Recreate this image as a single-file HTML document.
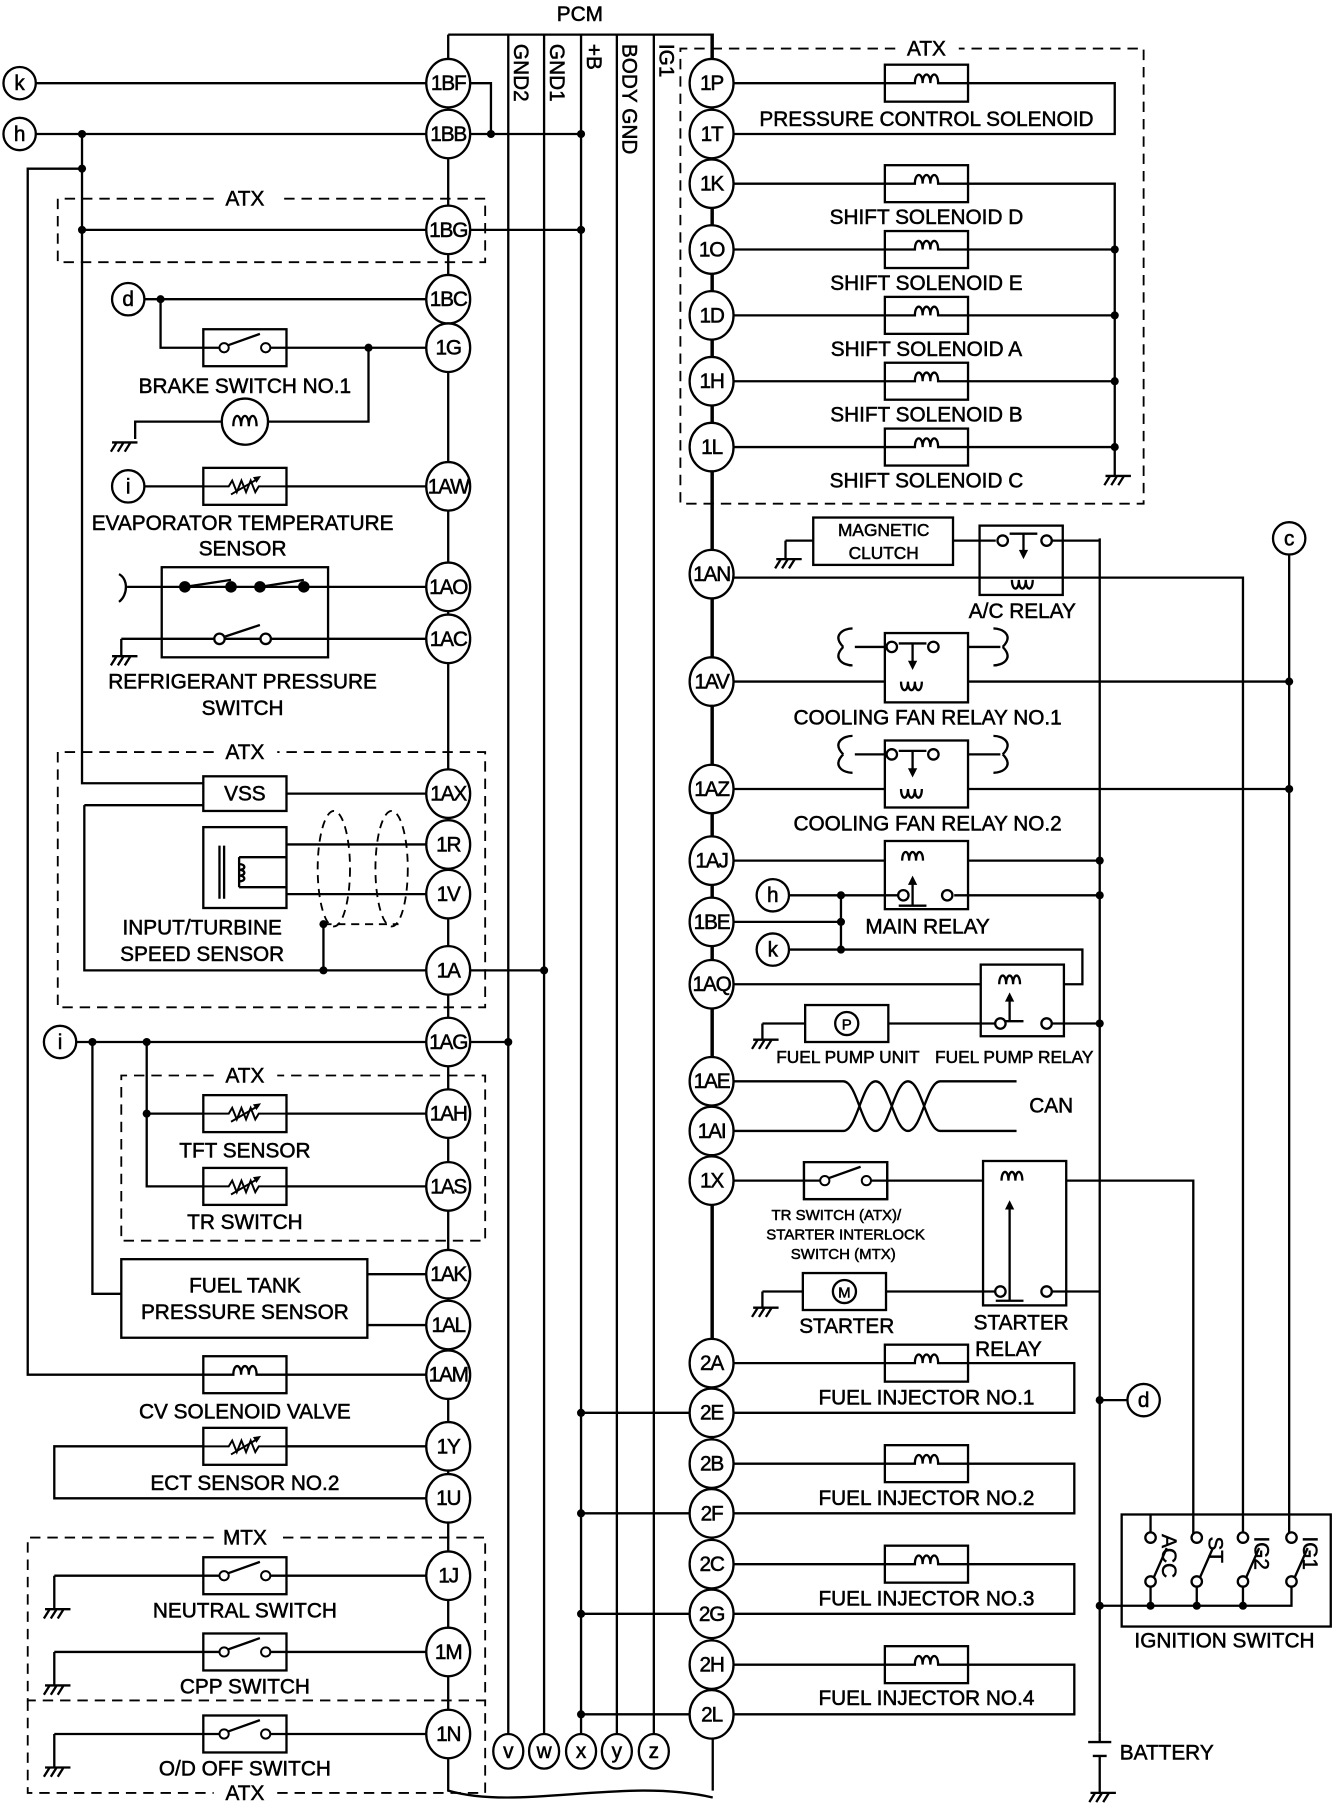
<!DOCTYPE html>
<html><head><meta charset="utf-8"><style>
html,body{margin:0;padding:0;background:#fff}
svg{display:block}
text{font-family:"Liberation Sans",Arial,sans-serif;fill:#000;stroke:#000;stroke-width:0.45}
</style></head><body>
<svg width="1340" height="1816" viewBox="0 0 1160 1572" preserveAspectRatio="none" xmlns="http://www.w3.org/2000/svg">
<defs>
<g id="coil"><rect x="-36" y="-16" width="72" height="32" fill="#fff" stroke="#000" stroke-width="2"/><path d="M-36 0H-10c0-10 6.7-10 6.7 0c0-10 6.7-10 6.7 0c0-10 6.7-10 6.7 0H36" fill="none" stroke="#000" stroke-width="2"/></g>
<g id="sw"><rect x="-36" y="-16" width="72" height="32" fill="#fff" stroke="#000" stroke-width="2"/><path d="M-36 0H-22M22 0H36M-15-2L13-12" fill="none" stroke="#000" stroke-width="2"/><circle cx="-18" cy="0" r="4" fill="#fff" stroke="#000" stroke-width="1.7"/><circle cx="18" cy="0" r="4" fill="#fff" stroke="#000" stroke-width="1.7"/></g>
<g id="th"><rect x="-36" y="-16" width="72" height="32" fill="#fff" stroke="#000" stroke-width="2"/><path d="M-36 0H-14l3-5 4 10 4-10 4 10 4-10 4 10 3-5H36M-12 7L12-7" fill="none" stroke="#000" stroke-width="1.7"/><path d="M14-9l-7 1 3 5z" fill="#000"/></g>
<g id="gnd"><path d="M-8 0H14M-4 0l-5 8M2 0l-5 8M8 0l-5 8" fill="none" stroke="#000" stroke-width="2"/></g>
</defs>
<g fill="none" stroke="#000" stroke-width="2">
<path d="M388 30H617V1550M388 30V1550C450 1568 540 1538 617 1556"/>
<path d="M440 30V1503M471 30V1503M503 30V1503M534 30V1503M566 30V1503"/>
<path d="M616 30V1500"/>
<g stroke-dasharray="9 6" stroke-width="1.6">
<path d="M185 172H50V227H420V172H240"/>
<path d="M185 651H50V872H420V651H240"/>
<path d="M185 931H105V1074H420V931H240"/>
<path d="M185 1331H24V1472H420V1331H240"/>
<path d="M24 1472V1552H185M240 1552H420V1472"/>
<path d="M775 42H589V436H990V42H830"/>
</g>
<path d="M31 72H369M31 116H369M406 72H425V116M406 116H503M71 116V678H176M71 146H24V1190H176M71 199H369M406 199H503"/>
<path d="M125 259H369M139 259V301H176M248 301H369M319 301V365H232M192 365H117V380"/>
<path d="M125 421H176M248 421H369"/>
<path d="M110 508H369M105 553H369M105 553V568"/>
<path d="M248 687H369M73 697H176M73 697V840H369M406 840H471M248 731H369M248 774H369M280 800V840"/>
<path d="M66 902H369M406 902H440M127 902V1027H176M127 964H176M248 964H369M248 1027H369M80 902V1120H105M318 1103H369M318 1147H369"/>
<path d="M248 1190H369M176 1252H47V1297H369M248 1252H369"/>
<path d="M47 1364H176M248 1364H369M47 1364V1393M47 1430H176M248 1430H369M47 1430V1459M47 1501H176M248 1501H369M47 1501V1530"/>
<rect x="140" y="491" width="144" height="78"/>
<path d="M160 508L200 502M225 508L263 502M195 551L225 541"/>
<path d="M103 497c8 4 8 18 0 24"/>
<rect x="176" y="716" width="72" height="70"/>
<path d="M190 732V778M194 732V778M207 742V768M207 742H248M207 768H248M207 748c6 0 6 5 0 5c6 0 6 5 0 5c6 0 6 5 0 5"/>
<g stroke-dasharray="7 5" stroke-width="1.6"><ellipse cx="289" cy="752" rx="14" ry="50"/><ellipse cx="339" cy="752" rx="14" ry="50"/><path d="M280 800H345"/></g>
<rect x="176" y="672" width="72" height="30" fill="#fff"/>
<rect x="105" y="1090" width="213" height="68"/>
<circle cx="212" cy="365" r="20"/>
<path d="M202 369c0-12 6.7-12 6.7 0c0-12 6.7-12 6.7 0c0-12 6.7-12 6.7 0"/>
<path d="M634 72H766M838 72H965V116H634M634 159H766M838 159H965V412M634 216H766M838 216H965M634 273H766M838 273H965M634 330H766M838 330H965M634 387H766M838 387H965"/>
<path d="M952 466V1500M680 468H704M680 468V484M825 468H862M910 468H952M634 500H1076V1331M1116 480V1331M634 590H766M838 590H1116M634 683H766M838 683H1116"/>
<rect x="704" y="448" width="121" height="41"/>
<rect x="848" y="455" width="72" height="60"/>
<rect x="766" y="548" width="72" height="60"/>
<rect x="766" y="641" width="72" height="58"/>
<path d="M730 560c-10-10 0-16 8-16M730 560c-10 10 0 16 8 16M740 560H766M838 560H866M868 560c10-10 0-16-8-16M868 560c10 10 0 16-8 16"/>
<path d="M730 653c-10-10 0-16 8-16M730 653c-10 10 0 16 8 16M740 653H766M838 653H866M868 653c10-10 0-16-8-16M868 653c10 10 0 16-8 16"/>
<rect x="766" y="728" width="72" height="59"/>
<path d="M634 745H766M838 745H952M634 798H728M680 775H778M826 775H952M728 775V822M680 822H937V852H921M634 852H849"/>
<rect x="849" y="835" width="72" height="62"/>
<path d="M660 886H697M660 886V900M769 886H862M910 886H952"/>
<rect x="697" y="870" width="72" height="32"/>
<path d="M634 936H730C742 936 746 979 758 979C770 979 774 936 786 936C798 936 802 979 814 979H880M634 979H730C742 979 746 936 758 936C770 936 774 979 786 979C798 979 802 936 814 936H880"/>
<path d="M634 1022H696M768 1022H851M923 1022H1033V1331M660 1118H695M660 1118V1132M767 1118H862M910 1118H952"/>
<rect x="696" y="1006" width="72" height="32"/>
<rect x="851" y="1005" width="72" height="125"/>
<rect x="695" y="1102" width="72" height="32"/>
<path d="M634 1180H766M838 1180H930V1223H503M634 1267H766M838 1267H930V1310H503M634 1354H766M838 1354H930V1397H503M634 1441H766M838 1441H930V1484H503"/>
<path d="M952 1212H976"/>
<rect x="971" y="1311" width="181" height="97"/>
<path d="M952 1390H1118V1373M996 1390V1373M1036 1390V1373M1076 1390V1373M996 1311V1327M1036 1331V1327M1076 1331V1327M1118 1331V1327"/>
<path d="M999 1365L1010 1340M1039 1365L1050 1340M1079 1365L1090 1340M1121 1365L1132 1340"/>
<path d="M952 1500V1508M942 1508H962M946 1520H958M952 1520V1552"/>
</g>
<g stroke="#000" stroke-width="2" fill="#fff">
<path d="M874 462H898M886 462V480M778 557H802M790 557V576M778 650H802M790 650V669M778 784H802M790 784V763M862 884H886M874 884V864M862 1126H886M874 1126V1045" fill="none"/>
<circle cx="868" cy="468" r="4.5"/><circle cx="906" cy="468" r="4.5"/>
<circle cx="772" cy="560" r="4.5"/><circle cx="808" cy="560" r="4.5"/>
<circle cx="772" cy="653" r="4.5"/><circle cx="808" cy="653" r="4.5"/>
<circle cx="782" cy="775" r="4.5"/><circle cx="820" cy="775" r="4.5"/>
<circle cx="866" cy="886" r="4.5"/><circle cx="906" cy="886" r="4.5"/>
<circle cx="866" cy="1118" r="4.5"/><circle cx="906" cy="1118" r="4.5"/>
<circle cx="996" cy="1331" r="4.5"/><circle cx="996" cy="1369" r="4.5"/>
<circle cx="1036" cy="1331" r="4.5"/><circle cx="1036" cy="1369" r="4.5"/>
<circle cx="1076" cy="1331" r="4.5"/><circle cx="1076" cy="1369" r="4.5"/>
<circle cx="1118" cy="1331" r="4.5"/><circle cx="1118" cy="1369" r="4.5"/>
<circle cx="190" cy="553" r="4.5"/><circle cx="230" cy="553" r="4.5"/>
<path d="M876 502c0 10 6 10 6 0c0 10 6 10 6 0c0 10 6 10 6 0M780 590c0 10 6 10 6 0c0 10 6 10 6 0c0 10 6 10 6 0M780 683c0 10 6 10 6 0c0 10 6 10 6 0c0 10 6 10 6 0M781 745c0-10 6-10 6 0c0-10 6-10 6 0c0-10 6-10 6 0M865 852c0-10 6-10 6 0c0-10 6-10 6 0c0-10 6-10 6 0M867 1022c0-10 6-10 6 0c0-10 6-10 6 0c0-10 6-10 6 0" fill="none"/>
<circle cx="733" cy="886" r="10"/><circle cx="731" cy="1118" r="10"/>
</g>
<g fill="#000">
<path d="M886 484l-4-8h8zM790 580l-4-8h8zM790 673l-4-8h8zM790 758l-4 8h8zM874 859l-4 8h8zM874 1039l-4 8h8z"/>
<circle cx="425" cy="116" r="3.5"/><circle cx="503" cy="116" r="3.5"/><circle cx="71" cy="116" r="3.5"/><circle cx="71" cy="146" r="3.5"/><circle cx="71" cy="199" r="3.5"/><circle cx="503" cy="199" r="3.5"/>
<circle cx="139" cy="259" r="3.5"/><circle cx="319" cy="301" r="3.5"/>
<circle cx="160" cy="508" r="5"/><circle cx="200" cy="508" r="5"/><circle cx="225" cy="508" r="5"/><circle cx="263" cy="508" r="5"/>
<circle cx="280" cy="800" r="3.5"/><circle cx="280" cy="840" r="3.5"/><circle cx="471" cy="840" r="3.5"/>
<circle cx="80" cy="902" r="3.5"/><circle cx="127" cy="902" r="3.5"/><circle cx="440" cy="902" r="3.5"/><circle cx="127" cy="964" r="3.5"/>
<circle cx="965" cy="216" r="3.5"/><circle cx="965" cy="273" r="3.5"/><circle cx="965" cy="330" r="3.5"/><circle cx="965" cy="387" r="3.5"/>
<circle cx="1116" cy="590" r="3.5"/><circle cx="1116" cy="683" r="3.5"/>
<circle cx="952" cy="745" r="3.5"/><circle cx="952" cy="775" r="3.5"/><circle cx="728" cy="775" r="3.5"/><circle cx="728" cy="798" r="3.5"/><circle cx="728" cy="822" r="3.5"/><circle cx="952" cy="886" r="3.5"/>
<circle cx="952" cy="1212" r="3.5"/><circle cx="503" cy="1223" r="3.5"/><circle cx="503" cy="1310" r="3.5"/><circle cx="503" cy="1397" r="3.5"/><circle cx="503" cy="1484" r="3.5"/>
<circle cx="952" cy="1390" r="3.5"/><circle cx="996" cy="1390" r="3.5"/><circle cx="1036" cy="1390" r="3.5"/><circle cx="1076" cy="1390" r="3.5"/>
</g>
<use href="#sw" x="212" y="301"/><use href="#th" x="212" y="421"/>
<use href="#th" x="212" y="964"/><use href="#th" x="212" y="1027"/>
<use href="#coil" x="212" y="1190"/><use href="#th" x="212" y="1252"/>
<use href="#sw" x="212" y="1364"/><use href="#sw" x="212" y="1430"/><use href="#sw" x="212" y="1501"/>
<use href="#coil" x="802" y="72"/><use href="#coil" x="802" y="159"/><use href="#coil" x="802" y="216"/><use href="#coil" x="802" y="273"/><use href="#coil" x="802" y="330"/><use href="#coil" x="802" y="387"/>
<use href="#coil" x="802" y="1180"/><use href="#coil" x="802" y="1267"/><use href="#coil" x="802" y="1354"/><use href="#coil" x="802" y="1441"/>
<use href="#sw" x="732" y="1022"/>
<use href="#gnd" x="105" y="383"/><use href="#gnd" x="105" y="568"/>
<use href="#gnd" x="47" y="1393"/><use href="#gnd" x="47" y="1459"/><use href="#gnd" x="47" y="1530"/>
<use href="#gnd" x="965" y="412"/><use href="#gnd" x="680" y="484"/><use href="#gnd" x="660" y="900"/><use href="#gnd" x="660" y="1132"/><use href="#gnd" x="952" y="1552"/>
<g fill="#fff" stroke="#000" stroke-width="2">
<ellipse cx="388" cy="72" rx="19" ry="21"/><ellipse cx="388" cy="116" rx="19" ry="21"/><ellipse cx="388" cy="199" rx="19" ry="21"/><ellipse cx="388" cy="259" rx="19" ry="21"/><ellipse cx="388" cy="301" rx="19" ry="21"/><ellipse cx="388" cy="421" rx="19" ry="21"/><ellipse cx="388" cy="508" rx="19" ry="21"/><ellipse cx="388" cy="553" rx="19" ry="21"/><ellipse cx="388" cy="687" rx="19" ry="21"/><ellipse cx="388" cy="731" rx="19" ry="21"/><ellipse cx="388" cy="774" rx="19" ry="21"/><ellipse cx="388" cy="840" rx="19" ry="21"/><ellipse cx="388" cy="902" rx="19" ry="21"/><ellipse cx="388" cy="964" rx="19" ry="21"/><ellipse cx="388" cy="1027" rx="19" ry="21"/><ellipse cx="388" cy="1103" rx="19" ry="21"/><ellipse cx="388" cy="1147" rx="19" ry="21"/><ellipse cx="388" cy="1190" rx="19" ry="21"/><ellipse cx="388" cy="1252" rx="19" ry="21"/><ellipse cx="388" cy="1297" rx="19" ry="21"/><ellipse cx="388" cy="1364" rx="19" ry="21"/><ellipse cx="388" cy="1430" rx="19" ry="21"/><ellipse cx="388" cy="1501" rx="19" ry="21"/>
<ellipse cx="616" cy="72" rx="19" ry="21"/><ellipse cx="616" cy="116" rx="19" ry="21"/><ellipse cx="616" cy="159" rx="19" ry="21"/><ellipse cx="616" cy="216" rx="19" ry="21"/><ellipse cx="616" cy="273" rx="19" ry="21"/><ellipse cx="616" cy="330" rx="19" ry="21"/><ellipse cx="616" cy="387" rx="19" ry="21"/><ellipse cx="616" cy="497" rx="19" ry="21"/><ellipse cx="616" cy="590" rx="19" ry="21"/><ellipse cx="616" cy="683" rx="19" ry="21"/><ellipse cx="616" cy="745" rx="19" ry="21"/><ellipse cx="616" cy="798" rx="19" ry="21"/><ellipse cx="616" cy="852" rx="19" ry="21"/><ellipse cx="616" cy="936" rx="19" ry="21"/><ellipse cx="616" cy="979" rx="19" ry="21"/><ellipse cx="616" cy="1022" rx="19" ry="21"/><ellipse cx="616" cy="1180" rx="19" ry="21"/><ellipse cx="616" cy="1223" rx="19" ry="21"/><ellipse cx="616" cy="1267" rx="19" ry="21"/><ellipse cx="616" cy="1310" rx="19" ry="21"/><ellipse cx="616" cy="1354" rx="19" ry="21"/><ellipse cx="616" cy="1397" rx="19" ry="21"/><ellipse cx="616" cy="1441" rx="19" ry="21"/><ellipse cx="616" cy="1484" rx="19" ry="21"/>
<ellipse cx="440" cy="1516" rx="13" ry="15"/><ellipse cx="471" cy="1516" rx="13" ry="15"/><ellipse cx="503" cy="1516" rx="13" ry="15"/><ellipse cx="534" cy="1516" rx="13" ry="15"/><ellipse cx="566" cy="1516" rx="13" ry="15"/>
<circle cx="17" cy="72" r="14"/><circle cx="17" cy="116" r="14"/><circle cx="111" cy="259" r="14"/><circle cx="111" cy="421" r="14"/><circle cx="52" cy="902" r="14"/>
<circle cx="1116" cy="466" r="14"/><circle cx="669" cy="775" r="14"/><circle cx="669" cy="822" r="14"/><circle cx="990" cy="1212" r="14"/>
</g>
<g font-size="18" text-anchor="middle" letter-spacing="-1">
<text x="388" y="78">1BF</text><text x="388" y="122">1BB</text><text x="388" y="205">1BG</text><text x="388" y="265">1BC</text><text x="388" y="307">1G</text><text x="388" y="427">1AW</text><text x="388" y="514">1AO</text><text x="388" y="559">1AC</text><text x="388" y="693">1AX</text><text x="388" y="737">1R</text><text x="388" y="780">1V</text><text x="388" y="846">1A</text><text x="388" y="908">1AG</text><text x="388" y="970">1AH</text><text x="388" y="1033">1AS</text><text x="388" y="1109">1AK</text><text x="388" y="1153">1AL</text><text x="388" y="1196">1AM</text><text x="388" y="1258">1Y</text><text x="388" y="1303">1U</text><text x="388" y="1370">1J</text><text x="388" y="1436">1M</text><text x="388" y="1507">1N</text>
<text x="616" y="78">1P</text><text x="616" y="122">1T</text><text x="616" y="165">1K</text><text x="616" y="222">1O</text><text x="616" y="279">1D</text><text x="616" y="336">1H</text><text x="616" y="393">1L</text><text x="616" y="503">1AN</text><text x="616" y="596">1AV</text><text x="616" y="689">1AZ</text><text x="616" y="751">1AJ</text><text x="616" y="804">1BE</text><text x="616" y="858">1AQ</text><text x="616" y="942">1AE</text><text x="616" y="985">1AI</text><text x="616" y="1028">1X</text><text x="616" y="1186">2A</text><text x="616" y="1229">2E</text><text x="616" y="1273">2B</text><text x="616" y="1316">2F</text><text x="616" y="1360">2C</text><text x="616" y="1403">2G</text><text x="616" y="1447">2H</text><text x="616" y="1490">2L</text>
</g>
<g font-size="18" text-anchor="middle">
<text x="440" y="1522">v</text><text x="471" y="1522">w</text><text x="503" y="1522">x</text><text x="534" y="1522">y</text><text x="566" y="1522">z</text>
<text x="17" y="78">k</text><text x="17" y="122">h</text><text x="111" y="265">d</text><text x="111" y="427">i</text><text x="52" y="908">i</text><text x="1116" y="472">c</text><text x="669" y="781">h</text><text x="669" y="828">k</text><text x="990" y="1218">d</text>
<text x="502" y="18">PCM</text>
<text x="212" y="178">ATX</text><text x="212" y="657">ATX</text><text x="212" y="937">ATX</text><text x="212" y="1337">MTX</text><text x="212" y="1558">ATX</text><text x="802" y="48">ATX</text>
<text x="212" y="340">BRAKE SWITCH NO.1</text>
<text x="210" y="459">EVAPORATOR TEMPERATURE</text><text x="210" y="481">SENSOR</text>
<text x="210" y="596">REFRIGERANT PRESSURE</text><text x="210" y="619">SWITCH</text>
<text x="212" y="693">VSS</text>
<text x="175" y="809">INPUT/TURBINE</text><text x="175" y="832">SPEED SENSOR</text>
<text x="212" y="1002">TFT SENSOR</text><text x="212" y="1064">TR SWITCH</text>
<text x="212" y="1119">FUEL TANK</text><text x="212" y="1142">PRESSURE SENSOR</text>
<text x="212" y="1228">CV SOLENOID VALVE</text><text x="212" y="1290">ECT SENSOR NO.2</text>
<text x="212" y="1400">NEUTRAL SWITCH</text><text x="212" y="1466">CPP SWITCH</text><text x="212" y="1537">O/D OFF SWITCH</text>
<text x="802" y="109">PRESSURE CONTROL SOLENOID</text>
<text x="802" y="194">SHIFT SOLENOID D</text><text x="802" y="251">SHIFT SOLENOID E</text><text x="802" y="308">SHIFT SOLENOID A</text><text x="802" y="365">SHIFT SOLENOID B</text><text x="802" y="422">SHIFT SOLENOID C</text>
<text x="885" y="535">A/C RELAY</text>
<text x="803" y="627">COOLING FAN RELAY NO.1</text><text x="803" y="719">COOLING FAN RELAY NO.2</text>
<text x="803" y="808">MAIN RELAY</text>
<text x="910" y="963">CAN</text>
<text x="733" y="1154">STARTER</text><text x="884" y="1151">STARTER</text><text x="873" y="1174">RELAY</text>
<text x="802" y="1216">FUEL INJECTOR NO.1</text><text x="802" y="1303">FUEL INJECTOR NO.2</text><text x="802" y="1390">FUEL INJECTOR NO.3</text><text x="802" y="1476">FUEL INJECTOR NO.4</text>
<text x="1060" y="1426">IGNITION SWITCH</text>
<text x="1010" y="1523">BATTERY</text>
</g>
<g font-size="15" text-anchor="middle">
<text x="765" y="464">MAGNETIC</text><text x="765" y="484">CLUTCH</text>
<text x="734" y="920">FUEL PUMP UNIT</text><text x="878" y="920">FUEL PUMP RELAY</text>
<text x="733" y="891" font-size="13">P</text><text x="731" y="1123" font-size="13">M</text>
</g>
<g font-size="13" text-anchor="middle">
<text x="724" y="1056">TR SWITCH (ATX)/</text><text x="732" y="1073">STARTER INTERLOCK</text><text x="730" y="1090">SWITCH (MTX)</text>
</g>
<g font-size="18">
<text transform="translate(445 38) rotate(90)">GND2</text>
<text transform="translate(476 38) rotate(90)">GND1</text>
<text transform="translate(508 38) rotate(90)">+B</text>
<text transform="translate(539 38) rotate(90)">BODY GND</text>
<text transform="translate(571 38) rotate(90)">IG1</text>
<text transform="translate(1006 1328) rotate(90)">ACC</text>
<text transform="translate(1046 1330) rotate(90)">ST</text>
<text transform="translate(1086 1330) rotate(90)">IG2</text>
<text transform="translate(1128 1330) rotate(90)">IG1</text>
</g>
</svg>
</body></html>
